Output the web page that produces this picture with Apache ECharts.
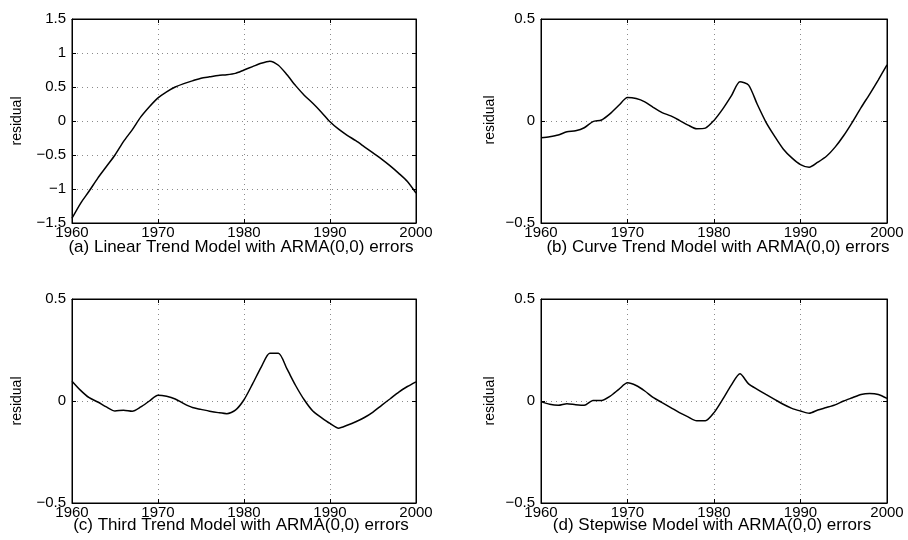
<!DOCTYPE html>
<html>
<head>
<meta charset="utf-8">
<script src="https://cdn.jsdelivr.net/npm/echarts@6/dist/echarts.min.js"></script>
<style>html,body{margin:0;padding:0;background:#fff;}#c{width:908px;height:540px;}</style>
</head>
<body>
<div id="c"></div>
<script>
var years = [1960,1961,1962,1963,1964,1965,1966,1967,1968,1969,1970,1971,1972,1973,1974,1975,1976,1977,1978,1979,1980,1981,1982,1983,1984,1985,1986,1987,1988,1989,1990,1991,1992,1993,1994,1995,1996,1997,1998,1999,2000];
var linearTrend = [-1.43,-1.21,-1.03,-0.84,-0.67,-0.50,-0.30,-0.13,0.06,0.21,0.34,0.43,0.50,0.55,0.59,0.63,0.65,0.67,0.68,0.70,0.75,0.80,0.85,0.88,0.82,0.68,0.52,0.38,0.26,0.13,-0.01,-0.12,-0.21,-0.29,-0.38,-0.47,-0.56,-0.66,-0.77,-0.89,-1.06];
var curveTrend = [-0.082,-0.077,-0.069,-0.053,-0.048,-0.033,-0.003,0.005,0.036,0.077,0.115,0.110,0.094,0.066,0.041,0.025,0.003,-0.020,-0.038,-0.035,0.003,0.058,0.123,0.192,0.176,0.082,-0.005,-0.074,-0.137,-0.181,-0.214,-0.227,-0.202,-0.173,-0.128,-0.071,-0.005,0.066,0.132,0.202,0.275];
var thirdTrend = [0.097,0.052,0.016,-0.005,-0.029,-0.049,-0.045,-0.050,-0.029,0.000,0.028,0.023,0.010,-0.013,-0.032,-0.041,-0.050,-0.057,-0.062,-0.045,0.006,0.084,0.166,0.234,0.234,0.157,0.076,0.006,-0.049,-0.081,-0.110,-0.133,-0.119,-0.102,-0.081,-0.054,-0.021,0.011,0.044,0.071,0.094];
var stepwise = [-0.003,-0.016,-0.021,-0.013,-0.018,-0.021,0.003,0.003,0.024,0.057,0.089,0.076,0.049,0.016,-0.008,-0.032,-0.057,-0.078,-0.097,-0.097,-0.057,0.008,0.078,0.133,0.084,0.057,0.032,0.008,-0.016,-0.036,-0.049,-0.060,-0.044,-0.032,-0.019,0.000,0.016,0.032,0.037,0.032,0.013];
var panelTitles = ['(a) Linear Trend Model with ARMA(0,0) errors','(b) Curve Trend Model with ARMA(0,0) errors','(c) Third Trend Model with ARMA(0,0) errors','(d) Stepwise Model with ARMA(0,0) errors'];
var yAxisName = 'residual';
var xTicks = [1960,1970,1980,1990,2000];
var yRangeA = [-1.5,1.5];
var yRangeOther = [-0.5,0.5];

var FONT = '"Liberation Sans", Arial, Helvetica, sans-serif';
var seriesList = [linearTrend, curveTrend, thirdTrend, stepwise];
var grids = [
  {left:72, top:19, width:344, height:204},
  {left:541, top:19, width:346, height:204},
  {left:72, top:299, width:344, height:204},
  {left:541, top:299, width:346, height:204}
];
var titlePos = [[241,239],[718,239],[241,517],[712,517]];
var yNamePos = [[17,121],[490,120],[17,401],[490,401]];

function fmtNum(v){
  var s = String(Math.round(v*10)/10);
  return s.replace('-', '\u2212');
}
function fmtYear(v){ return String(Math.round(v)); }

var option = {backgroundColor:'#fff', animation:false, grid:[], xAxis:[], yAxis:[], series:[], title:[], graphic:[]};
var gridLine = {show:true, lineStyle:{color:'#8a8a8a', type:[1,4], width:1}};
var axisLine = {show:true, onZero:false, lineStyle:{color:'#000', width:1}};
var tick = {show:true, inside:true, length:4, lineStyle:{color:'#000'}};
grids.forEach(function(g, i){
  option.grid.push({left:g.left, top:g.top, width:g.width, height:g.height, show:true, borderColor:'#000', borderWidth:1, backgroundColor:'transparent'});
  var yr = i === 0 ? yRangeA : yRangeOther;
  option.xAxis.push({type:'value', gridIndex:i, min:xTicks[0], max:xTicks[xTicks.length-1], interval:10, position:'bottom',
    axisLine:axisLine, axisTick:tick,
    axisLabel:{color:'#000', fontFamily:FONT, fontSize:15, margin:2, formatter:fmtYear},
    splitLine:gridLine});
  option.xAxis.push({type:'value', gridIndex:i, min:xTicks[0], max:xTicks[xTicks.length-1], interval:10, position:'top',
    axisLine:axisLine, axisTick:tick, axisLabel:{show:false}, splitLine:{show:false}});
  option.yAxis.push({type:'value', gridIndex:i, min:yr[0], max:yr[1], interval:0.5, position:'left',
    axisLine:axisLine, axisTick:tick,
    axisLabel:{color:'#000', fontFamily:FONT, fontSize:15, margin:6, formatter:fmtNum},
    splitLine:gridLine});
  option.yAxis.push({type:'value', gridIndex:i, min:yr[0], max:yr[1], interval:0.5, position:'right',
    axisLine:axisLine, axisTick:tick, axisLabel:{show:false}, splitLine:{show:false}});
  option.series.push({type:'line', xAxisIndex:i*2, yAxisIndex:i*2, showSymbol:false, smooth:0.25,
    lineStyle:{color:'#000', width:1.5},
    data: years.map(function(y, k){ return [y, seriesList[i][k]]; })});
  option.title.push({text:panelTitles[i], left:titlePos[i][0], top:titlePos[i][1], textAlign:'center', padding:0,
    textStyle:{color:'#000', fontFamily:FONT, fontSize:17, fontWeight:'normal'}});
  option.graphic.push({type:'text', x:yNamePos[i][0], y:yNamePos[i][1], rotation:Math.PI/2,
    style:{text:yAxisName, fill:'#000', font:'14px ' + FONT, textAlign:'center', textVerticalAlign:'middle'}});
});

var chart = echarts.init(document.getElementById('c'), null, {renderer:'canvas'});
chart.setOption(option);
</script>
</body>
</html>
